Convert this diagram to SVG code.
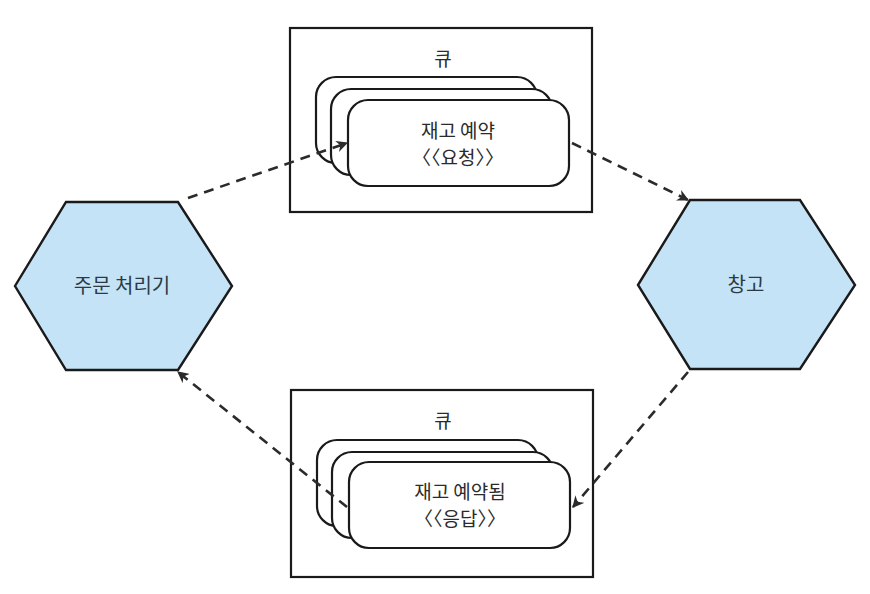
<svg xmlns="http://www.w3.org/2000/svg" width="870" height="594" viewBox="0 0 870 594">
<style>
.hex{fill:#c5e3f6;stroke:#1a1a1a;stroke-width:2.4}
.box{fill:#fff;stroke:#1a1a1a;stroke-width:2.2}
.card{fill:#fff;stroke:#1a1a1a;stroke-width:2.2}
.t{font-family:"Noto Sans CJK KR","Noto Sans",sans-serif;font-size:19px;fill:#2b2b2b;text-anchor:middle}
.ht{font-family:"Noto Sans CJK KR","Noto Sans",sans-serif;font-size:20px;fill:#2b3a44;text-anchor:middle}
.conn{fill:none;stroke:#2b2b2b;stroke-width:2.6;stroke-dasharray:10 7}
</style>
<defs>
<marker id="arr" viewBox="0 0 10 10" refX="9" refY="5" markerWidth="4.5" markerHeight="4.5" orient="auto" markerUnits="strokeWidth">
<path d="M0,0 L10,5 L0,10 L3,5 Z" fill="#2b2b2b"/>
</marker>
</defs>
<rect width="870" height="594" fill="#fff"/>

<g id="order-processor">
<polygon class="hex" points="15,286 66,202 178,202 232,286 178,370 66,370"/>
<text class="ht" x="122" y="293">주문 처리기</text>
</g>

<g id="warehouse">
<polygon class="hex" points="638,285 690,200 800,200 855,285 800,369 690,369"/>
<text class="ht" x="746" y="292">창고</text>
</g>

<g id="request-queue">
<rect class="box" x="290" y="28" width="302" height="184"/>
<text class="t" x="443" y="66">큐</text>
<rect class="card" x="316" y="77" width="221" height="86" rx="20"/>
<rect class="card" x="331" y="89" width="221" height="86" rx="20"/>
<rect class="card" x="348" y="100" width="221" height="86" rx="20"/>
<text class="t" x="458" y="138">재고 예약</text>
<text class="t" x="458" y="165">〈〈요청〉〉</text>
</g>

<g id="response-queue">
<rect class="box" x="291" y="390" width="302" height="187"/>
<text class="t" x="443" y="428">큐</text>
<rect class="card" x="317" y="440" width="221" height="86" rx="20"/>
<rect class="card" x="332" y="452" width="221" height="86" rx="20"/>
<rect class="card" x="349" y="462" width="221" height="86" rx="20"/>
<text class="t" x="460" y="499">재고 예약됨</text>
<text class="t" x="460" y="526">〈〈응답〉〉</text>
</g>

<g id="connectors">
<path class="conn" d="M188,198 L347,143" marker-end="url(#arr)"/>
<path class="conn" d="M572,143 L688,200" marker-end="url(#arr)"/>
<path class="conn" d="M688,372 L573,507" marker-end="url(#arr)"/>
<path class="conn" d="M347,507 L178,372" marker-end="url(#arr)"/>
</g>
</svg>
